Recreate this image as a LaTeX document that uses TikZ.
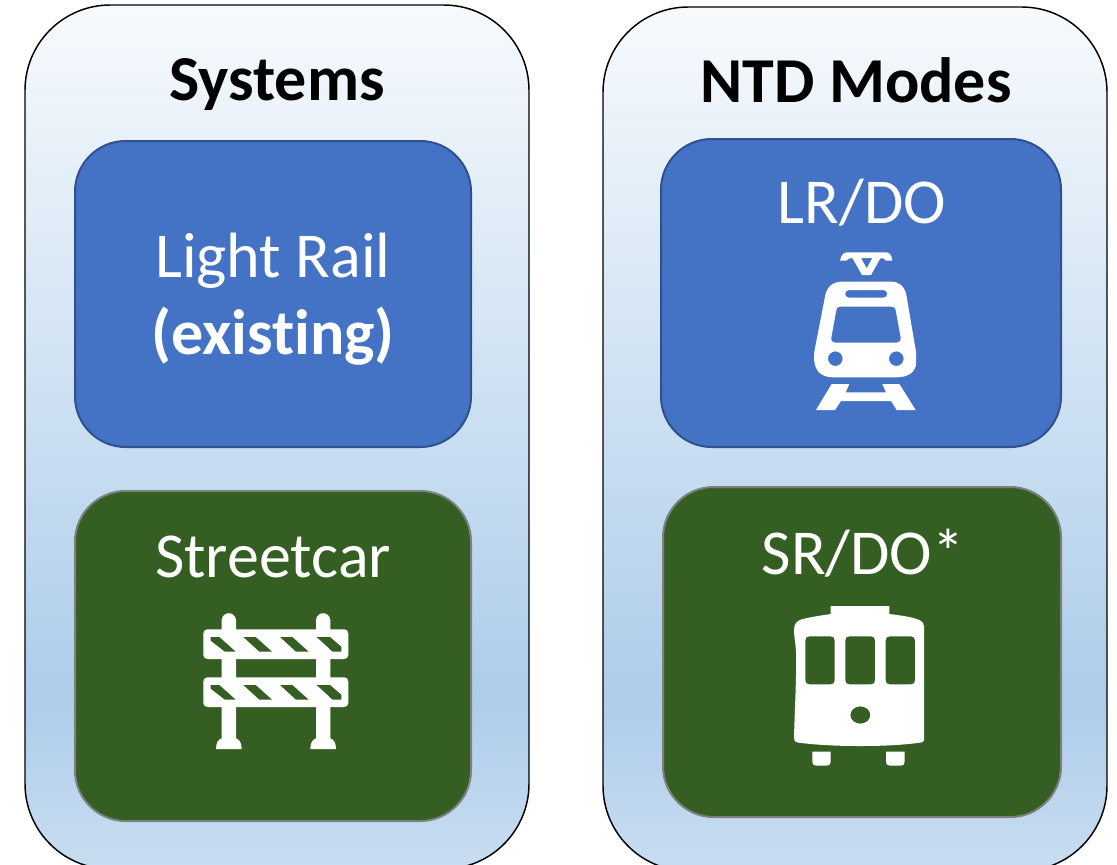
\documentclass[tikz,border=0pt]{standalone}
\usepackage{fontspec}
\setmainfont[Ligatures=NoCommon]{Carlito}
\definecolor{blueFill}{HTML}{4472C4}
\definecolor{blueEdge}{HTML}{2F528F}
\definecolor{greenFill}{HTML}{355F22}
\definecolor{greenEdge}{HTML}{7F7F7F}
\definecolor{panelTop}{HTML}{F7FAFD}
\definecolor{panelMid}{HTML}{ADCDEA}
\definecolor{panelEnd}{HTML}{C9DDF1}
\pgfdeclareverticalshading{panelshade}{100bp}{color(0bp)=(panelEnd); color(25bp)=(panelEnd); color(35bp)=(panelMid); color(75bp)=(panelTop); color(100bp)=(panelTop)}
\tikzset{
  panel/.style={rectangle,draw=black,line width=1.1pt,shading=panelshade,rounded corners=64pt,inner sep=0pt},
  bluebox/.style={rectangle,draw=blueEdge,line width=1.5pt,fill=blueFill,rounded corners=38pt,inner sep=0pt},
  greenbox/.style={rectangle,draw=greenEdge,line width=1.5pt,fill=greenFill,rounded corners=38pt,inner sep=0pt},
  boxsize/.style 2 args={minimum width=#1*0.75pt,minimum height=#2*0.75pt},
  heading/.style={anchor=base,inner sep=0pt,font=\fontsize{48}{56}\selectfont\bfseries,text=black},
  label/.style={anchor=base,inner sep=0pt,font=\fontsize{48}{56}\selectfont,text=white},
  icon/.style={fill=white,even odd rule},
  zoomcrop/.style 2 args={shift={(#1,#2)},x=0.25pt,y=-0.25pt},
}
\begin{document}
\begin{tikzpicture}[x=0.75pt,y=-0.75pt]
\clip (0,0) rectangle (1117,864);
\fill[white] (0,0) rectangle (1117,864);
% panels
\node[panel,boxsize={504}{864}] (sysPanel) at (277,437) {};
\node[panel,boxsize={504}{864}] (ntdPanel) at (855,439) {};
% boxes
\node[bluebox,boxsize={396}{306}] (lightRail) at (273,294) {};
\node[greenbox,boxsize={396}{330}] (streetcar) at (273,656) {};
\node[bluebox,boxsize={400}{308}] (lrdo) at (861,293) {};
\node[greenbox,boxsize={398}{330}] (srdo) at (862,652) {};
% text
\node[heading] (sysT) at (277,100) {Systems};
\node[heading] (ntdT) at (856,102) {NTD Modes};
\node[label] (lrT) at (273,277) {Light Rail};
\node[label,font=\fontsize{48}{56}\selectfont\bfseries] (exT) at (273,354) {(existing)};
\node[label] (scT) at (273,577) {Streetcar};
\node[label] (lrdoT) at (862,223) {LR/DO};
\node[label] (srdoT) at (863,574) {SR/DO*};
% train icon
\begin{scope}[zoomcrop={780}{240}]
\fill[icon] (180,62) .. controls (184,45) and (190,37) .. (202,37) -- (318,37) .. controls (330,37) and (335,47) .. (337,62) -- (318,62) .. controls (314,56) and (308,53) .. (301,55) -- (273,105) -- (246,105) -- (218,55) .. controls (210,53) and (204,56) .. (199,62) -- cycle
 (243,54) -- (277,54) -- (260,85) -- cycle;
\fill[icon] (185,125) -- (335,125) .. controls (358,125) and (374,140) .. (379,165) -- (408,335) -- (408,370) .. controls (408,395) and (385,412) .. (350,412) -- (160,412) .. controls (125,412) and (102,395) .. (102,350) -- (103,335) -- (136,165) .. controls (141,140) and (160,125) .. (185,125) -- cycle
 (207,150) -- (310,150) arc[start angle=-90,end angle=90,radius=11.5] -- (207,173) arc[start angle=90,end angle=270,radius=11.5] -- cycle
 (180,200) -- (335,200) .. controls (342,200) and (346,204) .. (347,210) -- (362,292) .. controls (363,302) and (358,308) .. (350,308) -- (165,308) .. controls (157,308) and (152,302) .. (154,292) -- (169,210) .. controls (170,204) and (173,200) .. (180,200) -- cycle
 (166,356) circle[radius=22] (349,356) circle[radius=22];
\fill[icon] (155,432) -- (208,432) -- (197,457) -- (318,457) -- (307,432) -- (358,432) -- (407,510) -- (350,510) -- (333,483) -- (183,483) -- (165,510) -- (108,510) -- cycle;
\end{scope}
% barrier icon
\begin{scope}[zoomcrop={190}{600}]
\fill[icon] (95,415) -- (95,61) arc[start angle=180,end angle=360,radius=21.5] -- (138,415) .. controls (148,418) and (155,428) .. (155,447) -- (78,447) .. controls (78,428) and (85,418) .. (95,415) -- cycle;
\fill[icon] (378,415) -- (378,61) arc[start angle=180,end angle=360,radius=21.5] -- (421,415) .. controls (431,418) and (438,428) .. (438,447) -- (361,447) .. controls (361,428) and (368,418) .. (378,415) -- cycle;
\foreach \d in {0,144}{
  \fill[white,rounded corners=3pt] (40,88+\d) rectangle (475,177+\d);
  \fill[greenFill] (62,111+\d) -- (88,111+\d) -- (137,155+\d) -- (105,155+\d) -- (62,122+\d) -- cycle;
  \fill[greenFill] (160,111+\d) -- (197,111+\d) -- (246,155+\d) -- (208,155+\d) -- cycle;
  \fill[greenFill] (270,111+\d) -- (307,111+\d) -- (356,155+\d) -- (318,155+\d) -- cycle;
  \fill[greenFill] (380,111+\d) -- (420,111+\d) -- (454,140+\d) -- (454,155+\d) -- (428,155+\d) -- cycle;
}
\end{scope}
% streetcar icon
\begin{scope}[zoomcrop={780}{595}]
\fill[icon] (152,33) -- (328,33) -- (328,57) .. controls (370,62) and (405,68) .. (420,76) .. controls (428,80) and (432,86) .. (432,95) -- (432,435) .. controls (432,440) and (428,442) .. (420,443) .. controls (360,451) and (300,453) .. (240,453) .. controls (180,453) and (120,451) .. (55,443) .. controls (47,442) and (42,438) .. (42,430) .. controls (44,340) and (50,250) .. (48,170) .. controls (47,145) and (42,125) .. (42,105) .. controls (42,88) and (50,78) .. (62,74) .. controls (85,67) and (120,62) .. (152,57) -- cycle
 (88,124) -- (152,124) .. controls (160,124) and (164,128) .. (164,136) -- (164,256) .. controls (164,264) and (160,268) .. (152,268) -- (88,268) .. controls (80,268) and (76,264) .. (76,256) -- (76,136) .. controls (76,128) and (80,124) .. (88,124) -- cycle
 (208,124) -- (273,124) .. controls (281,124) and (285,128) .. (285,136) -- (285,256) .. controls (285,264) and (281,268) .. (273,268) -- (208,268) .. controls (200,268) and (196,264) .. (196,256) -- (196,136) .. controls (196,128) and (200,124) .. (208,124) -- cycle
 (329,124) -- (393,124) .. controls (401,124) and (405,128) .. (405,136) -- (405,256) .. controls (405,264) and (401,268) .. (393,268) -- (329,268) .. controls (321,268) and (317,264) .. (317,256) -- (317,136) .. controls (317,128) and (321,124) .. (329,124) -- cycle
 (241,360) ellipse[x radius=30,y radius=26];
\fill[white] (97,470) -- (152,470) -- (152,500) .. controls (152,508) and (148,512) .. (140,512) -- (109,512) .. controls (101,512) and (97,508) .. (97,500) -- cycle;
\fill[white] (318,470) -- (374,470) -- (374,500) .. controls (374,508) and (370,512) .. (362,512) -- (330,512) .. controls (322,512) and (318,508) .. (318,500) -- cycle;
\end{scope}
\end{tikzpicture}
\end{document}
